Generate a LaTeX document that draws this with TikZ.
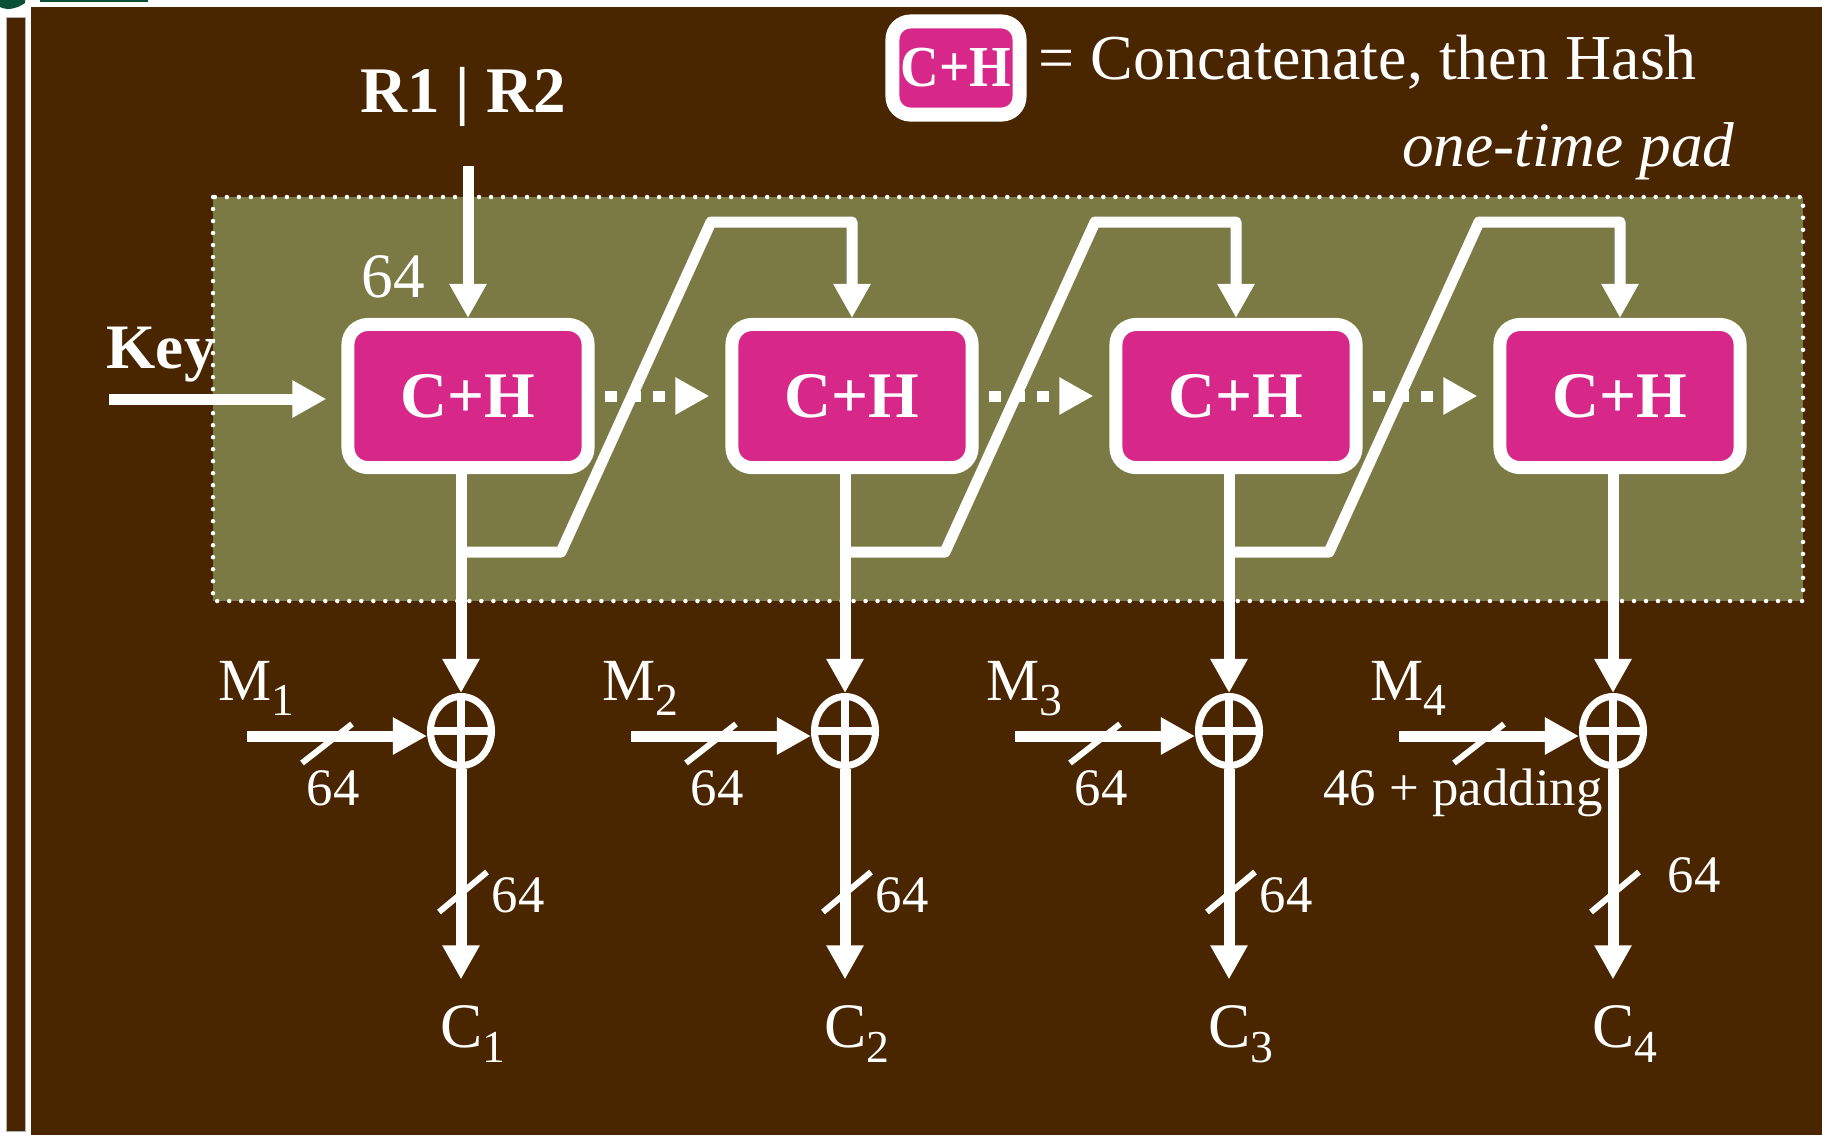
\documentclass[tikz,border=0pt]{standalone}
\usepackage{fontspec}
\setmainfont{Liberation Serif}
\usetikzlibrary{arrows.meta,shapes.geometric}

\definecolor{slidebrown}{RGB}{73,37,0}
\definecolor{padolive}{RGB}{123,121,68}
\definecolor{hashpink}{RGB}{215,40,138}
\definecolor{logogreen}{RGB}{10,80,55}

\newcommand{\lowidx}[1]{\raisebox{-0.15cm}{\fontsize{13}{13}\selectfont #1}}

\begin{document}
\begin{tikzpicture}[x=0.01cm, y=-0.01cm,
    chbox/.style={rectangle, rounded corners=0.2cm, fill=hashpink, draw=white, line width=0.13cm,
      minimum width=2.40cm, minimum height=1.43cm, inner sep=0pt, text=white,
      font=\fontsize{18.5}{20}\selectfont\bfseries},
    flow/.style={draw=white, line width=0.11cm, line join=round, -{Triangle[width=0.35cm,length=0.34cm]}},
    chain/.style={flow, dash pattern=on 0.12cm off 0.12cm},
    xorop/.style={ellipse, draw=white, line width=0.07cm, minimum width=0.61cm, minimum height=0.69cm, inner sep=0pt},
    busmark/.style={draw=white, line width=0.06cm},
    lbl/.style={inner sep=0pt, text=white, font=\fontsize{15}{17}\selectfont},
    biglbl/.style={inner sep=0pt, text=white, font=\fontsize{18.5}{21}\selectfont}]
        % slide background
        \useasboundingbox (0,0) rectangle (1822,1135);
        \fill[slidebrown] (31,7) rectangle (1822,1135);
        \filldraw[fill=slidebrown, draw=gray!60, line width=0.01cm] (6,17) rectangle (25,1131);
        \fill[logogreen] (40,0) rectangle (148,1.5);
        \fill[logogreen] (0,0) -- (25,0) -- (25,3) .. controls (15,10) and (6,10) .. (0,7) -- cycle;
        % one-time pad region
        \filldraw[fill=padolive, draw=white, line width=0.045cm, line cap=round, dash pattern=on 0pt off 0.12cm] (213,197) rectangle (1803,601);
        % legend
        \node[chbox, rounded corners=0.18cm, line width=0.14cm, minimum width=1.27cm, minimum height=0.93cm,
          font=\fontsize{16.5}{18}\selectfont\bfseries] (legbox) at (956,68) {\scalebox{0.92}[1]{C+H}};
        \node[biglbl, font=\fontsize{18.2}{21}\selectfont, anchor=base west] (legtext) at (1038,79) {= Concatenate, then Hash};
        \node[biglbl, font=\fontsize{18}{21}\selectfont\itshape, anchor=base east] (otp) at (1735,166) {one-time pad};
        % inputs
        \node[biglbl, font=\fontsize{18.5}{21}\selectfont\bfseries, anchor=base] (rr) at (463,112) {R1 | R2};
        \node[biglbl, font=\fontsize{18}{21}\selectfont\bfseries, anchor=base west] (key) at (106,368) {Key};
        \node[biglbl, font=\fontsize{18}{21}\selectfont, anchor=base] (topw) at (393,297) {64};
        \coordinate (keyin) at (109,399);

        % columns
        \foreach \i/\x/\wtext/\wx/\dx/\dy in {1/468/64/128/30/912, 2/852/64/128/30/912, 3/1236/64/128/30/912, 4/1620/{46 + padding}/150/54/892} {
          \node[chbox] (ch\i) at (\x,396) {C+H};
          \node[xorop] (xor\i) at (\x-7,731) {};
          \draw[white, line width=0.08cm] (xor\i.north) -- (xor\i.south) (xor\i.west) -- (xor\i.east);
          \node[lbl, font=\fontsize{17}{19}\selectfont, anchor=base west] (m\i) at (\x-250,700) {M\lowidx{\i}};
          \node[lbl, font=\fontsize{18}{20}\selectfont, anchor=base west] (c\i) at (\x-28,1047) {C\lowidx{\i}};
          \coordinate (min\i) at (\x-221,736);
          \draw[flow] (ch\i.south -| xor\i) -- (xor\i.north);
          \draw[flow] (min\i) -- (min\i -| xor\i.west);
          \draw[busmark] ([shift={(55,27)}]min\i) -- ++(50,-39);
          \node[lbl, anchor=base] (w\i) at (\x-7-\wx,805) {\wtext};
          \draw[flow, shorten >=0.25cm] (xor\i.south) -- (xor\i.south |- c\i.north);
          \draw[busmark] ([shift={(-22,181)}]xor\i.center) -- ++(48,-40);
          \node[lbl, anchor=base west] (o\i) at (\x-7+\dx,\dy) {64};
        }

        % key and seed
        \draw[flow, shorten >=0.15cm] (keyin) -- (keyin -| ch1.west);
        \draw[flow, shorten <=0.39cm] (rr.south -| ch1.north) -- (ch1.north);
        % chaining
        \foreach \a/\b in {1/2,2/3,3/4}
          \draw[chain] ([xshift=0.10cm]ch\a.east) -- ([xshift=-0.16cm]ch\b.west);
        \foreach \a/\b in {1/2,2/3,3/4}
          \draw[flow] (xor\a |- 0,552) -- ++(100,0) -- ++(150,-330) -| (ch\b.north);
\end{tikzpicture}
\end{document}
